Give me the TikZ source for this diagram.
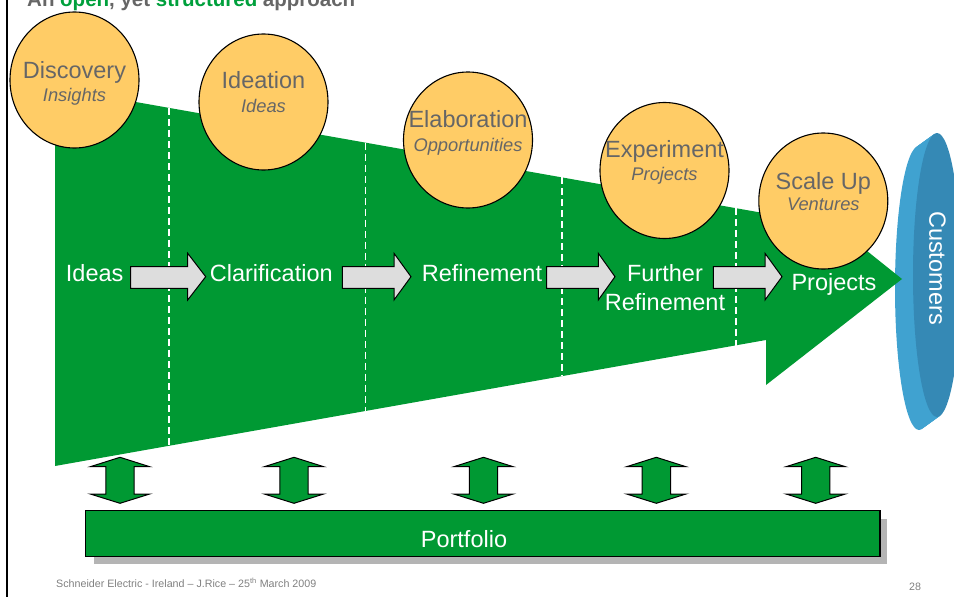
\documentclass[tikz,border=0pt]{standalone}
\usepackage{fontspec}
\setmainfont{Liberation Sans}
\usetikzlibrary{shapes.geometric}
\definecolor{sgreen}{HTML}{009933}
\definecolor{borange}{HTML}{FFCC66}
\definecolor{tgray}{HTML}{666666}
\definecolor{agray}{HTML}{DDDDDD}
\definecolor{clight}{HTML}{40A2D0}
\definecolor{cdark}{HTML}{3589B5}
\definecolor{tgreen}{HTML}{00A03C}
\definecolor{fgray}{HTML}{808080}
\definecolor{shgray}{HTML}{B4B4B4}
\begin{document}
\begin{tikzpicture}[x=1pt,y=-1pt,
  bubble/.style={ellipse, draw=black, line width=1.1pt, fill=borange,
    minimum width=129pt, minimum height=136pt, inner sep=0pt},
  bubtitle/.style={anchor=base, text=tgray, font=\fontsize{23.5}{28}\selectfont, inner sep=0pt},
  bubsub/.style={anchor=base, text=tgray, font=\fontsize{18.3}{22}\selectfont\itshape, inner sep=0pt},
  stage/.style={anchor=base, text=white, font=\fontsize{23.5}{28}\selectfont, inner sep=0pt},
  blockarrow/.style={draw=black, line width=1pt, fill=agray, line join=miter},
  dblarrow/.style={draw=black, line width=1pt, fill=sgreen, line join=miter},
  divider/.style={white, line width=1.3pt, dash pattern=on 7pt off 4pt},
  footer/.style={anchor=base west, text=fgray, font=\fontsize{10.7}{12}\selectfont, inner sep=0pt}
]
\clip (0,0) rectangle (954,597);
\useasboundingbox (0,0) rectangle (954,597);

% Customers disc
\foreach \t in {0,0.05,...,1.0}{
  \fill[clight] ({919+18*\t},{288-13*\t}) ellipse [x radius=24, y radius=142];
}
\fill[cdark] (937,275) ellipse [x radius=24, y radius=142];
\node[rotate=-90, text=white, font=\fontsize{23.5}{28}\selectfont, inner sep=0pt] (customers) at (937.5,268) {Customers};

% funnel
\fill[sgreen] (55,87.7) -- (766,213.5) -- (766,340) -- (55,466) -- cycle;
\fill[sgreen] (766,170) -- (902,279) -- (766,385) -- cycle;

% stage dividers
\draw[divider] (169,107.9) -- (169,445.8);
\draw[divider] (365.5,142.7) -- (365.5,411.0);
\draw[divider] (562,177.4) -- (562,376.3);
\draw[divider] (736,208.2) -- (736,345.5);

% grey block arrows
\newcommand\blkarrow[3]{%
  \draw[blockarrow] (#1,266.7) -- (#2,266.7) -- (#2,253.3) -- (#3,276.7) -- (#2,300) -- (#2,288.3) -- (#1,288.3) -- cycle;}
\blkarrow{130.7}{187.7}{205.7}
\blkarrow{342.3}{394}{411}
\blkarrow{546.7}{598.3}{615}
\blkarrow{713.3}{765}{782}

% stage labels
\node[stage] (ideas) at (94.7,281.6) {Ideas};
\node[stage] (clar) at (271.3,281.6) {Clarification};
\node[stage] (refine) at (482,281.6) {Refinement};
\node[stage] (further) at (665,281.6) {Further};
\node[stage] (further2) at (665,310) {Refinement};
\node[stage] (projects) at (834,290) {Projects};

% bubbles
\node[bubble] (discovery) at (74.5,80) {};
\node[bubble] (ideation) at (263.5,102) {};
\node[bubble] (elaboration) at (468,140) {};
\node[bubble] (experiment) at (664.5,170.5) {};
\node[bubble] (scaleup) at (823.3,201) {};

\node[bubtitle] (t1) at (74.5,78) {Discovery};
\node[bubsub]   (s1) at (74.5,101.5) {Insights};
\node[bubtitle] (t2) at (263.5,88) {Ideation};
\node[bubsub]   (s2) at (263.5,112.5) {Ideas};
\node[bubtitle] (t3) at (468,127) {Elaboration};
\node[bubsub]   (s3) at (468,151.5) {Opportunities};
\node[bubtitle] (t4) at (664.5,157) {Experiment};
\node[bubsub]   (s4) at (664.5,180.5) {Projects};
\node[bubtitle] (t5) at (823.3,189) {Scale Up};
\node[bubsub]   (s5) at (823.3,210.5) {Ventures};

% double arrows
\foreach \x in {120,294,483.5,656.3,815.7}{
  \draw[dblarrow] (\x,457.3) -- (\x+29.7,466.7) -- (\x+14.2,466.7) -- (\x+14.2,494)
    -- (\x+29.7,494) -- (\x,503.3) -- (\x-29.7,494) -- (\x-14.2,494)
    -- (\x-14.2,466.7) -- (\x-29.7,466.7) -- cycle;
}

% portfolio
\fill[shgray] (94,519) rectangle (887.3,564);
\draw[fill=sgreen, draw=black, line width=1.2pt] (85.7,510.7) rectangle (880,556.7);
\node[stage] (portfolio) at (464,547.5) {Portfolio};

% footer
\node[footer] (foot) at (56,587) {Schneider Electric - Ireland -- J.Rice -- 25\textsuperscript{th} March 2009};
\node[footer] (page) at (909,590.5) {28};

% title (cut by top edge, as in the reference)
\node[anchor=base west, inner sep=0pt, font=\fontsize{20.5}{24}\selectfont\bfseries] (title) at (27,6)
  {{\color{tgray}An\ }{\color{tgreen}open}{\color{tgray},\ yet\ }{\color{tgreen}structured}{\color{tgray}\ approach}};

% left rule
\draw[black, line width=2pt] (7,0) -- (7,597);
\end{tikzpicture}
\end{document}
